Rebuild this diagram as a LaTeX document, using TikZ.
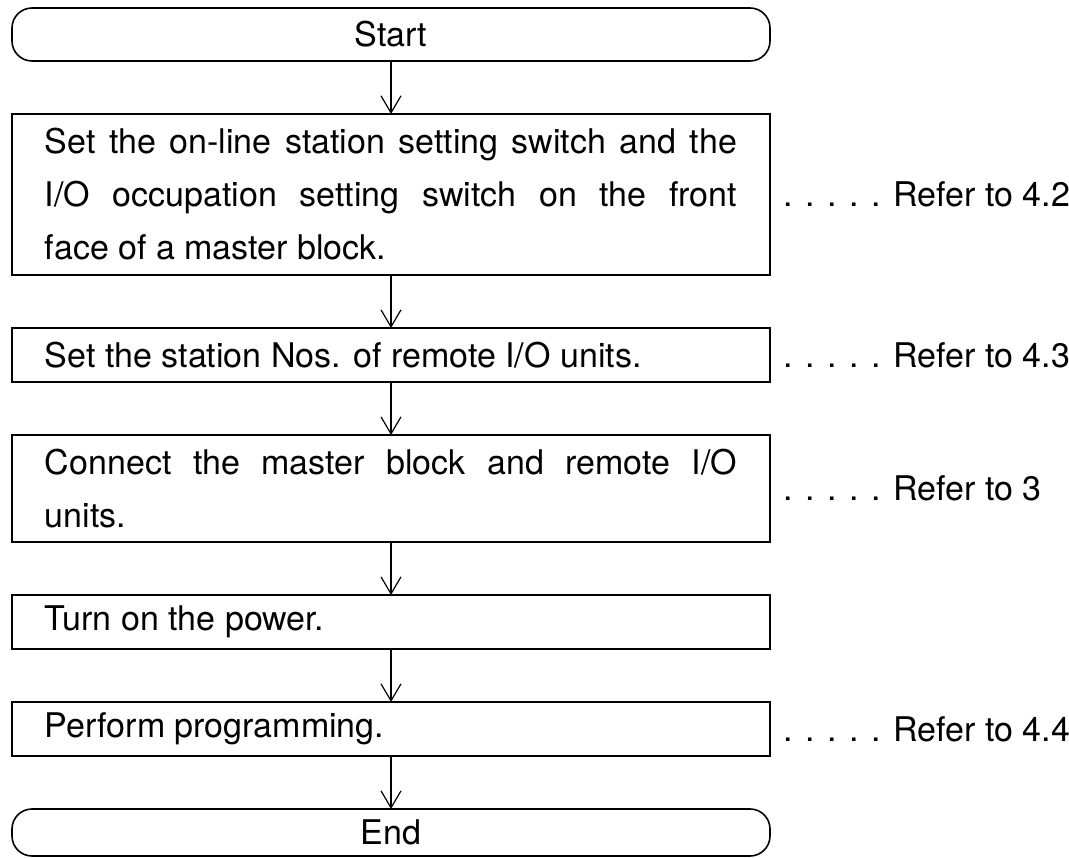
\documentclass[tikz,border=0pt]{standalone}
\usepackage{fontspec}
\setmainfont{TeX Gyre Heros}
\usetikzlibrary{positioning, arrows.meta}

\begin{document}
\begin{tikzpicture}[x=1pt,y=1pt,node distance=53pt,
  font=\fontsize{34}{53}\selectfont,
  terminal/.style={draw,line width=1.6pt,outer sep=0pt,rounded corners=20pt,minimum width=758pt,minimum height=53pt},
  stepbox/.style={draw,line width=1.6pt,outer sep=0pt,minimum height=54pt,text width=692pt,inner xsep=33pt,align=justify},
  refer/.style={inner sep=0pt,anchor=west,right=13pt of #1},
  flow/.style={-{Straight Barb[length=17pt,width=20pt]},line width=1.2pt}]
\useasboundingbox (0,0) rectangle (1069,-858);

\node[terminal] (start) at (391,-34.5) {Start};
\node[stepbox,minimum height=161pt] (setsw) [below=of start] {Set the on-line station setting switch and the\linebreak I/O occupation setting switch on the front\linebreak face of a master block.};
\node[stepbox] (stno) [below=of setsw] {Set the station Nos. of remote I/O units.};
\node[stepbox,minimum height=107pt] (connect) [below=of stno] {Connect the master block and remote I/O\linebreak units.};
\node[stepbox] (power) [below=of connect] {Turn on the power.};
\node[stepbox] (prog) [below=of power] {Perform programming.};
\node[terminal,minimum height=47pt,inner sep=0pt] (end) [below=of prog] {End};

% references to the sections
\node[refer=setsw] (ref42) {. . . . . Refer to 4.2};
\node[refer=stno] (ref43) {. . . . . Refer to 4.3};
\node[refer=connect] (ref3) {. . . . . Refer to 3};
\node[refer=prog] (ref44) {. . . . . Refer to 4.4};

\path[flow]
(start) edge (setsw)
(setsw) edge (stno)
(stno) edge (connect)
(connect) edge (power)
(power) edge (prog)
(prog) edge (end);
\end{tikzpicture}
\end{document}
